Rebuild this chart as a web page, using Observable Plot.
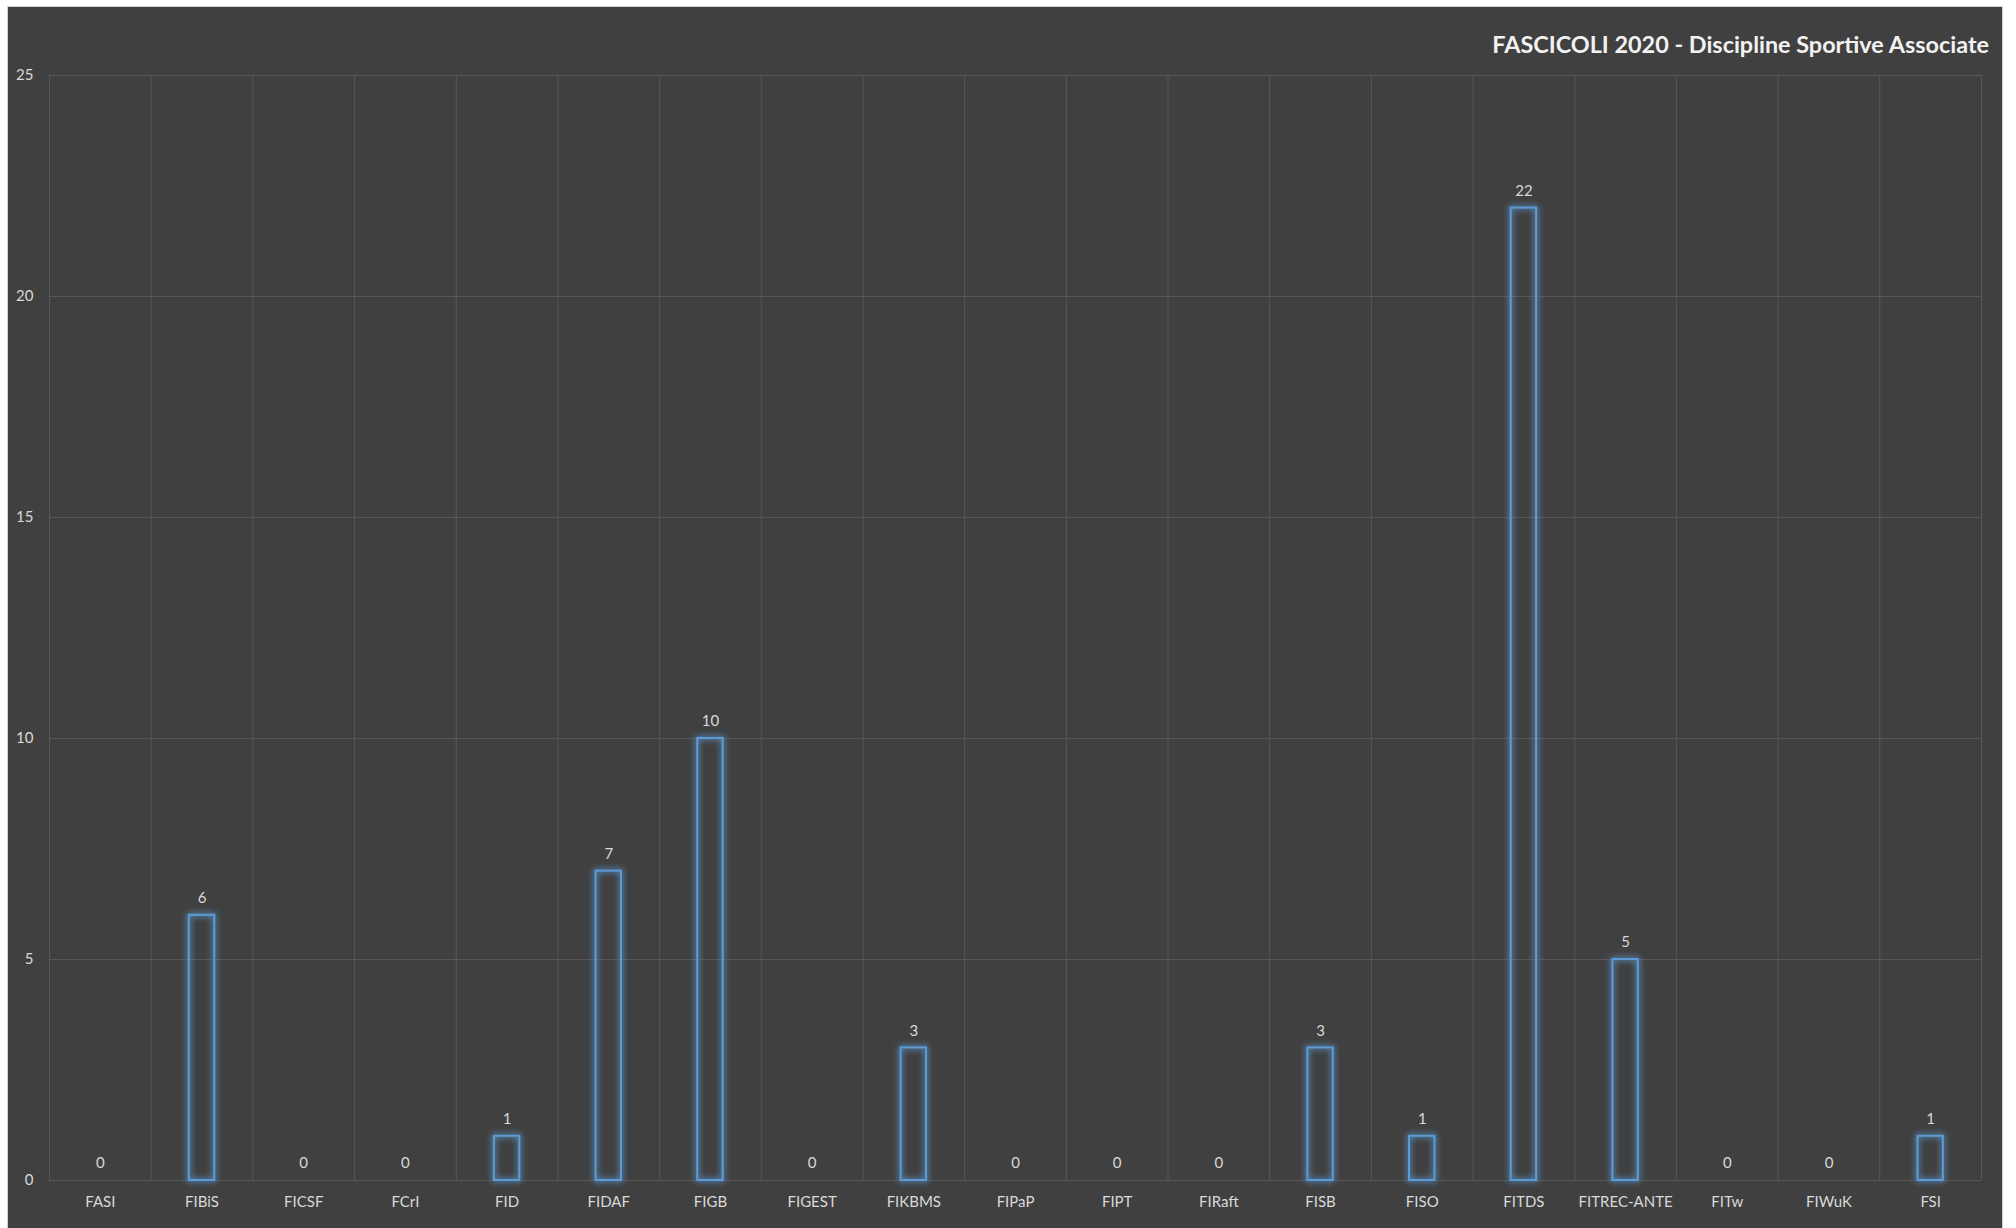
<!DOCTYPE html>
<html>
<head>
<meta charset="utf-8">
<script src="https://cdn.jsdelivr.net/npm/d3@7"></script>
<script src="https://cdn.jsdelivr.net/npm/@observablehq/plot@0.6"></script>
<style>
  html, body { margin: 0; padding: 0; background: #ffffff; }
  #chart {
    position: absolute; left: 7px; top: 6px; width: 1994px; height: 1222px;
    background: #404040;
    border-left: 1px solid #d0d0d0; border-top: 1px solid #d0d0d0; border-right: 1px solid #d0d0d0;
    font-family: Lato, "Noto Sans", sans-serif;
    overflow: hidden;
  }
  #title {
    position: absolute; right: 13px; top: 25px; margin: 0;
    font-size: 23.4px; line-height: 24px; font-weight: bold; color: #f2f2f2;
    font-family: Lato, "Noto Sans", sans-serif;
  }
  #plot { position: absolute; left: 0; top: 0; }
</style>
</head>
<body>
<div id="chart">
  <div id="title">FASCICOLI 2020 - Discipline Sportive Associate</div>
  <div id="plot"></div>
</div>
<script>
const categories = ["FASI","FIBiS","FICSF","FCrI","FID","FIDAF","FIGB","FIGEST","FIKBMS","FIPaP","FIPT","FIRaft","FISB","FISO","FITDS","FITREC-ANTE","FITw","FIWuK","FSI"];
const values = [0,6,0,0,1,7,10,0,3,0,0,0,3,1,22,5,0,0,1];
const yTicks = [0,5,10,15,20,25];

const data = categories.map((c, i) => ({cat: c, value: values[i]}));

const W = 1994, H = 1221, ML = 41, MR = 21, MT = 68, MB = 48;
const step = (W - ML - MR) / categories.length;
const gridColor = "#575757";
const textColor = "#d9d9d9";

const chart = Plot.plot({
  width: W, height: H,
  marginLeft: ML, marginRight: MR, marginTop: MT, marginBottom: MB,
  style: { background: "transparent", color: textColor, fontFamily: "Lato, 'Noto Sans', sans-serif", fontSize: "15px" },
  x: { domain: categories, paddingInner: 0.75, paddingOuter: 0.375, round: false, label: null, tickSize: 0, tickPadding: 15.5 },
  y: { domain: [0, 25], ticks: yTicks, label: null, tickSize: 0, tickPadding: 16 },
  marks: [
    Plot.gridY(yTicks, { stroke: gridColor, strokeOpacity: 1 }),
    Plot.ruleX(categories, { x: d => d, dx: -step / 2, y1: 0, y2: 25, stroke: gridColor, strokeOpacity: 1 }),
    Plot.ruleX([categories[categories.length - 1]], { x: d => d, dx: step / 2, y1: 0, y2: 25, stroke: gridColor, strokeOpacity: 1 }),
    Plot.barY(data.filter(d => d.value > 0), { x: "cat", y: "value", fill: "none", stroke: "#5B9BD5", strokeWidth: 2 }),
    Plot.text(data, { x: "cat", y: "value", text: d => String(d.value), dy: -17, fill: textColor, fontSize: 15 }),
    Plot.axisY({ ticks: yTicks, tickSize: 0, tickPadding: 16, fill: textColor, fontSize: 15, label: null }),
    Plot.axisX({ tickSize: 0, tickPadding: 15.5, fill: textColor, fontSize: 15, label: null })
  ]
});

const svg = d3.select(chart);
const defs = svg.insert("defs", ":first-child");
const f = defs.append("filter").attr("id", "glow").attr("x", "-60%").attr("y", "-20%").attr("width", "220%").attr("height", "140%");
f.append("feGaussianBlur").attr("in", "SourceGraphic").attr("stdDeviation", 3).attr("result", "b");
f.append("feComponentTransfer").attr("in", "b").attr("result", "b2")
  .append("feFuncA").attr("type", "linear").attr("slope", 1.6);
const m = f.append("feMerge");
m.append("feMergeNode").attr("in", "b2");
m.append("feMergeNode").attr("in", "SourceGraphic");
svg.selectAll('g[aria-label="bar"]').attr("filter", "url(#glow)");

document.getElementById("plot").appendChild(chart);
</script>
</body>
</html>
